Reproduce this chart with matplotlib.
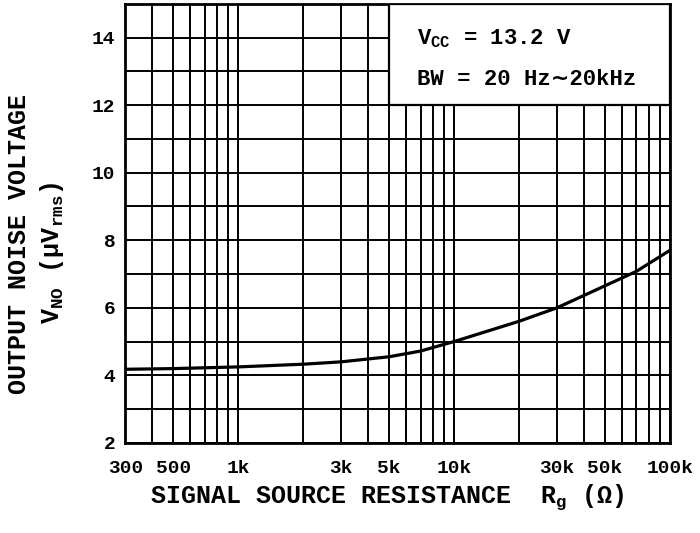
import matplotlib
matplotlib.use("Agg")
import matplotlib.pyplot as plt
from matplotlib.ticker import FixedLocator, LogLocator, MultipleLocator, NullFormatter
from matplotlib.patches import Rectangle

# curve
rg_ohm = [300, 500, 1000, 2000, 3000, 5000, 7000, 10000, 20000, 30000, 50000, 70000, 100000]
vno_uv = [4.18, 4.2, 4.25, 4.33, 4.4, 4.55, 4.72, 5.0, 5.6, 6.0, 6.65, 7.08, 7.7]

xtick_vals = [300, 500, 1000, 3000, 5000, 10000, 30000, 50000, 100000]
xtick_labels = ["300", "500", "1k", "3k", "5k", "10k", "30k", "50k", "100k"]
ytick_vals = [2, 4, 6, 8, 10, 12, 14]

plt.rcParams['font.family'] = ['Liberation Mono', 'DejaVu Sans']
plt.rcParams['font.weight'] = 'bold'
plt.rcParams['mathtext.fontset'] = 'custom'
plt.rcParams['mathtext.rm'] = 'Liberation Mono:bold'
plt.rcParams['mathtext.it'] = 'Liberation Mono:bold'

fig = plt.figure(figsize=(7, 5.33), dpi=100)
ax = fig.add_axes([0.179, 0.169, 0.778, 0.824])

ax.plot(rg_ohm, vno_uv, color='black', lw=2.3, zorder=4)

ax.set_xscale('log')
ax.set_xlim(300, 100000)
ax.set_ylim(2, 15)

ax.xaxis.set_major_locator(FixedLocator(xtick_vals))
ax.set_xticklabels(xtick_labels)
ax.xaxis.set_minor_locator(LogLocator(base=10, subs=range(1, 10)))
ax.xaxis.set_minor_formatter(NullFormatter())
ax.yaxis.set_major_locator(FixedLocator(ytick_vals))
ax.yaxis.set_minor_locator(MultipleLocator(1))

ax.grid(which='both', color='black', lw=1.4)
ax.set_axisbelow(True)
ax.tick_params(which='both', length=0, labelsize=14)
ax.tick_params(axis='x', pad=12)
ax.tick_params(axis='y', pad=7)
for s in ax.spines.values():
    s.set_linewidth(2.0)

# condition box in the upper right
box_x0, box_x1, box_y0, box_y1 = 5000, 100000, 12, 15
ax.add_patch(Rectangle((box_x0, box_y0), box_x1 - box_x0, box_y1 - box_y0,
                       facecolor='white', edgecolor='black', lw=1.6, zorder=3))
ax.text(0.535, 0.92, r"$\mathregular{V_{CC}}$ = 13.2 V", transform=ax.transAxes,
        fontsize=16, va='center', zorder=5)
ax.text(0.535, 0.827, "BW = 20 Hz∼20kHz", transform=ax.transAxes,
        fontsize=16, va='center', zorder=5)

fig.text(0.553, 0.068, r"SIGNAL SOURCE RESISTANCE  $\mathregular{R_g}$ ($\Omega$)",
         ha='center', va='center', fontsize=18)
fig.text(0.027, 0.542, "OUTPUT NOISE VOLTAGE", rotation=90,
         ha='center', va='center', fontsize=18)
fig.text(0.074, 0.525, r"$\mathregular{V_{NO}}$ ($\mu\mathregular{V_{rms}}$)", rotation=90,
         ha='center', va='center', fontsize=18)

fig.savefig("out.png", dpi=100)
